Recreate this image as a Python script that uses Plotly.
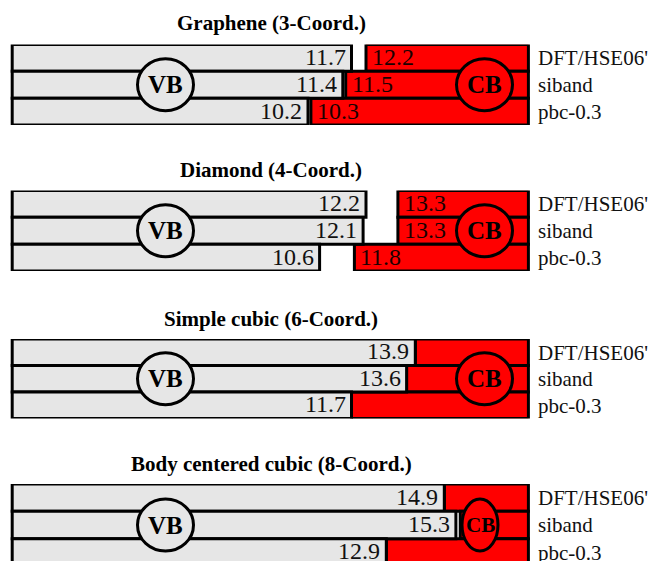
import plotly.graph_objects as go

W, H = 649, 561
FONT = "Liberation Serif"
GRAY = "#e6e6e6"
RED = "#ff0000"
INK = "#111111"

# ---------------- data ----------------
titles = ["Graphene (3-Coord.)", "Diamond (4-Coord.)",
          "Simple cubic (6-Coord.)", "Body centered cubic (8-Coord.)"]
methods = ["DFT/HSE06'", "siband", "pbc-0.3"]

vb_graphene = [11.7, 11.4, 10.2]
cb_graphene = [12.2, 11.5, 10.3]
vb_diamond = [12.2, 12.1, 10.6]
cb_diamond = [13.3, 13.3, 11.8]
vb_sc = [13.9, 13.6, 11.7]
cb_sc = [13.9, 13.6, 11.7]        # metallic: CB band starts at VB top (no label)
vb_bcc = [14.9, 15.3, 12.9]
cb_bcc = [14.9, 15.45, 12.9]      # metallic: CB band starts at VB top (no label)

vb_values = [vb_graphene, vb_diamond, vb_sc, vb_bcc]
cb_values = [cb_graphene, cb_diamond, cb_sc, cb_bcc]
cb_labelled = [True, True, False, False]

# ---------------- layout constants ----------------
SCALE_MIN, SCALE_MAX = 0.0, 17.8          # ends of each band frame
PX_ZERO, PX_PER_UNIT = 12.2, 29.0         # pixel of value 0, pixels per unit
x_range = [(0 - PX_ZERO) / PX_PER_UNIT, (W - PX_ZERO) / PX_PER_UNIT]

panel_px = [(44.5, 125.0), (190.5, 271.0), (339.0, 418.5), (484.0, 566.0)]
title_px = [23, 170, 319, 464]
TITLE_X_PX = 271
VB_X_PX = 165.5
CB_X_PX = [484.5, 484.5, 484.5, 480.0]
CB_HALF_W = [28, 28, 28, 18]
CB_TEXT_SIZE = [25, 25, 25, 21]
LABEL_X_PX = 530

fig = go.Figure()
annotations = []
shapes = []
layout_axes = {}

for i in range(4):
    k = i + 1
    xa, ya = f"x{k}", f"y{k}"
    vb, cb = vb_values[i], cb_values[i]

    fig.add_trace(go.Bar(
        y=methods, x=[SCALE_MAX - c for c in cb], base=cb, orientation="h",
        width=1, marker=dict(color=RED, line=dict(color="black", width=3)),
        xaxis=xa, yaxis=ya, hoverinfo="skip", showlegend=False))
    fig.add_trace(go.Bar(
        y=methods, x=[v - SCALE_MIN for v in vb], base=SCALE_MIN, orientation="h",
        width=1, marker=dict(color=GRAY, line=dict(color="black", width=3)),
        xaxis=xa, yaxis=ya, hoverinfo="skip", showlegend=False))

    t, b = panel_px[i]
    vis_b = min(b, H)
    rh = (b - t) / 3.0
    layout_axes[f"xaxis{k}"] = dict(domain=[0, 1], range=x_range, visible=False,
                                    anchor=ya, fixedrange=True)
    layout_axes[f"yaxis{k}"] = dict(
        domain=[1 - vis_b / H, 1 - t / H],
        range=[-0.5 + (vis_b - t) / rh, -0.5],
        type="category", categoryorder="array", categoryarray=methods,
        anchor="free", position=LABEL_X_PX / W, side="right",
        showgrid=False, zeroline=False, showline=False, ticks="",
        tickfont=dict(family=FONT, size=21, color=INK),
        ticklabelstandoff=7, automargin=False, fixedrange=True)

    # values
    for j, m in enumerate(methods):
        annotations.append(dict(
            x=vb[j], y=m, xref=xa, yref=ya, text=f"{vb[j]:.1f}",
            xanchor="right", yanchor="middle", xshift=-4, yshift=1, showarrow=False,
            font=dict(family=FONT, size=24, color=INK)))
        if cb_labelled[i]:
            annotations.append(dict(
                x=cb[j], y=m, xref=xa, yref=ya, text=f"{cb[j]:.1f}",
                xanchor="left", yanchor="middle", xshift=4, yshift=1, showarrow=False,
                font=dict(family=FONT, size=24, color="#1a0000")))

    # VB / CB circles
    for cx, hw, fill, txt, ts in [(VB_X_PX, 28, GRAY, "VB", 25),
                                  (CB_X_PX[i], CB_HALF_W[i], RED, "CB", CB_TEXT_SIZE[i])]:
        shapes.append(dict(
            type="circle", xref="paper", yref=ya,
            xsizemode="pixel", xanchor=cx / W, x0=-hw, x1=hw,
            ysizemode="pixel", yanchor=methods[1], y0=-26, y1=26,
            fillcolor=fill, line=dict(color="black", width=3), layer="above"))
        annotations.append(dict(
            x=cx / W, y=methods[1], xref="paper", yref=ya, text=f"<b>{txt}</b>",
            xanchor="center", yanchor="middle", showarrow=False,
            font=dict(family=FONT, size=ts, color="black")))

    # title
    annotations.append(dict(
        x=TITLE_X_PX / W, y=1 - title_px[i] / H, xref="paper", yref="paper",
        text=f"<b>{titles[i]}</b>", xanchor="center", yanchor="middle",
        showarrow=False, font=dict(family=FONT, size=21, color="black")))

fig.update_layout(
    width=W, height=H, margin=dict(l=0, r=0, t=0, b=0),
    template="none", paper_bgcolor="white", plot_bgcolor="white",
    barmode="overlay", showlegend=False,
    annotations=annotations, shapes=shapes, **layout_axes)

fig.write_html("out.html")
